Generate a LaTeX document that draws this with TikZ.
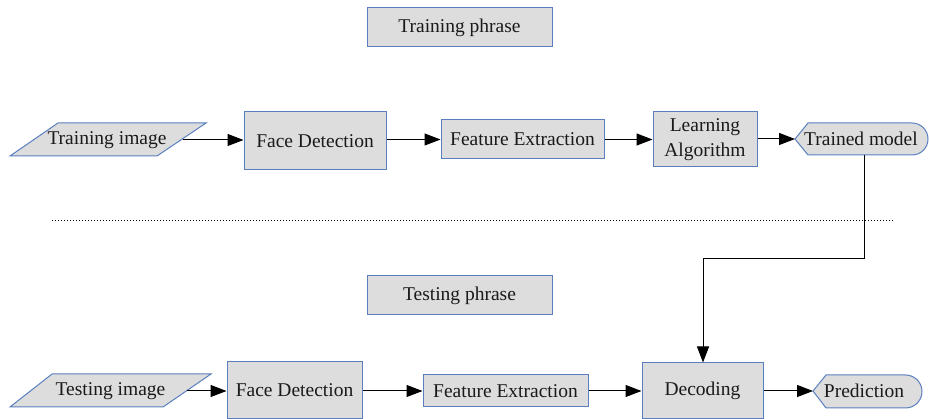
\documentclass[tikz,border=0pt]{standalone}
\usepackage{fontspec}
\setmainfont{Liberation Serif}
\usetikzlibrary{arrows.meta}
\definecolor{bfill}{HTML}{DDDDDD}
\definecolor{bline}{HTML}{5A7FBF}
\definecolor{txt}{HTML}{1A1A1A}
\tikzset{
  box/.style={draw=bline, fill=bfill, line width=1pt, inner sep=0pt, text=txt, align=center, font=\fontsize{19.5}{25}\selectfont},
  shp/.style={draw=bline, fill=bfill, line width=1pt},
  lbl/.style={inner sep=0pt, text=txt, font=\fontsize{19.5}{25}\selectfont},
  arr/.style={draw=black, line width=1pt, -{Triangle[length=16pt,width=12pt]}},
}
\begin{document}
\begin{tikzpicture}[x=1pt,y=-1pt]
\useasboundingbox (0,0) rectangle (929,419);
% titles
\node[box, minimum width=185pt, minimum height=39pt] (tp) at (459.5,27.5) {Training phrase};
\node[box, minimum width=185pt, minimum height=39pt] (tsp) at (459.5,295.5) {Testing phrase};
% training row
\path[shp] (58,123) -- (206,123) -- (157,156) -- (10,156) -- cycle;
\node[lbl] (ti) at (107,140) {Training image};
\coordinate (tiout) at (183,140);
\node[box, minimum width=142pt, minimum height=58pt] (fd1) at (315,141) {Face Detection};
\node[box, minimum width=163pt, minimum height=39pt] (fe1) at (522.5,139.5) {Feature Extraction};
\node[box, minimum width=104pt, minimum height=55pt] (la) at (705,139.5) {Learning\\Algorithm};
\path[shp] (795,139) -- (808,123) -- (912,123) arc[start angle=-90, end angle=90, radius=16] -- (808,155) -- cycle;
\node[lbl] (tm) at (861,139) {Trained model};
\coordinate (tmin) at (795,139);
\coordinate (tmout) at (864,155);
\coordinate (bend1) at (864,259);
\coordinate (bend2) at (703,259);
% testing row
\path[shp] (52,374) -- (211,374) -- (163,407) -- (10,407) -- cycle;
\node[lbl] (tei) at (110.5,391) {Testing image};
\coordinate (teiout) at (187,391);
\node[box, minimum width=135pt, minimum height=56pt] (fd2) at (294.5,390) {Face Detection};
\node[box, minimum width=165pt, minimum height=32pt] (fe2) at (505.5,391) {Feature Extraction};
\node[box, minimum width=121pt, minimum height=55pt] (dec) at (702.5,390.5) {Decoding};
\path[shp] (813,391) -- (826,375) -- (905.5,375) arc[start angle=-90, end angle=90, radius=16.5] -- (826,408) -- cycle;
\node[lbl] (pr) at (864,391) {Prediction};
\coordinate (prin) at (813,391);
% dotted separator
\coordinate (d1) at (52,220);
\coordinate (d2) at (893,220);
\draw[line width=0.8pt, dash pattern=on 1pt off 2pt] (d1) -- (d2);
% connectors
\draw[arr] (tiout) -- (tiout -| fd1.west);
\draw[arr] (fd1.east |- fe1.west) -- (fe1.west);
\draw[arr] (fe1.east) -- (fe1.east -| la.west);
\draw[arr] (la.east |- tmin) -- (tmin);
\draw[arr] (tmout) -- (bend1) -- (bend2) -- (bend2 |- dec.north);
\draw[arr] (teiout) -- (teiout -| fd2.west);
\draw[arr] (fd2.east |- fe2.west) -- (fe2.west);
\draw[arr] (fe2.east) -- (fe2.east -| dec.west);
\draw[arr] (dec.east |- prin) -- (prin);
\end{tikzpicture}
\end{document}
